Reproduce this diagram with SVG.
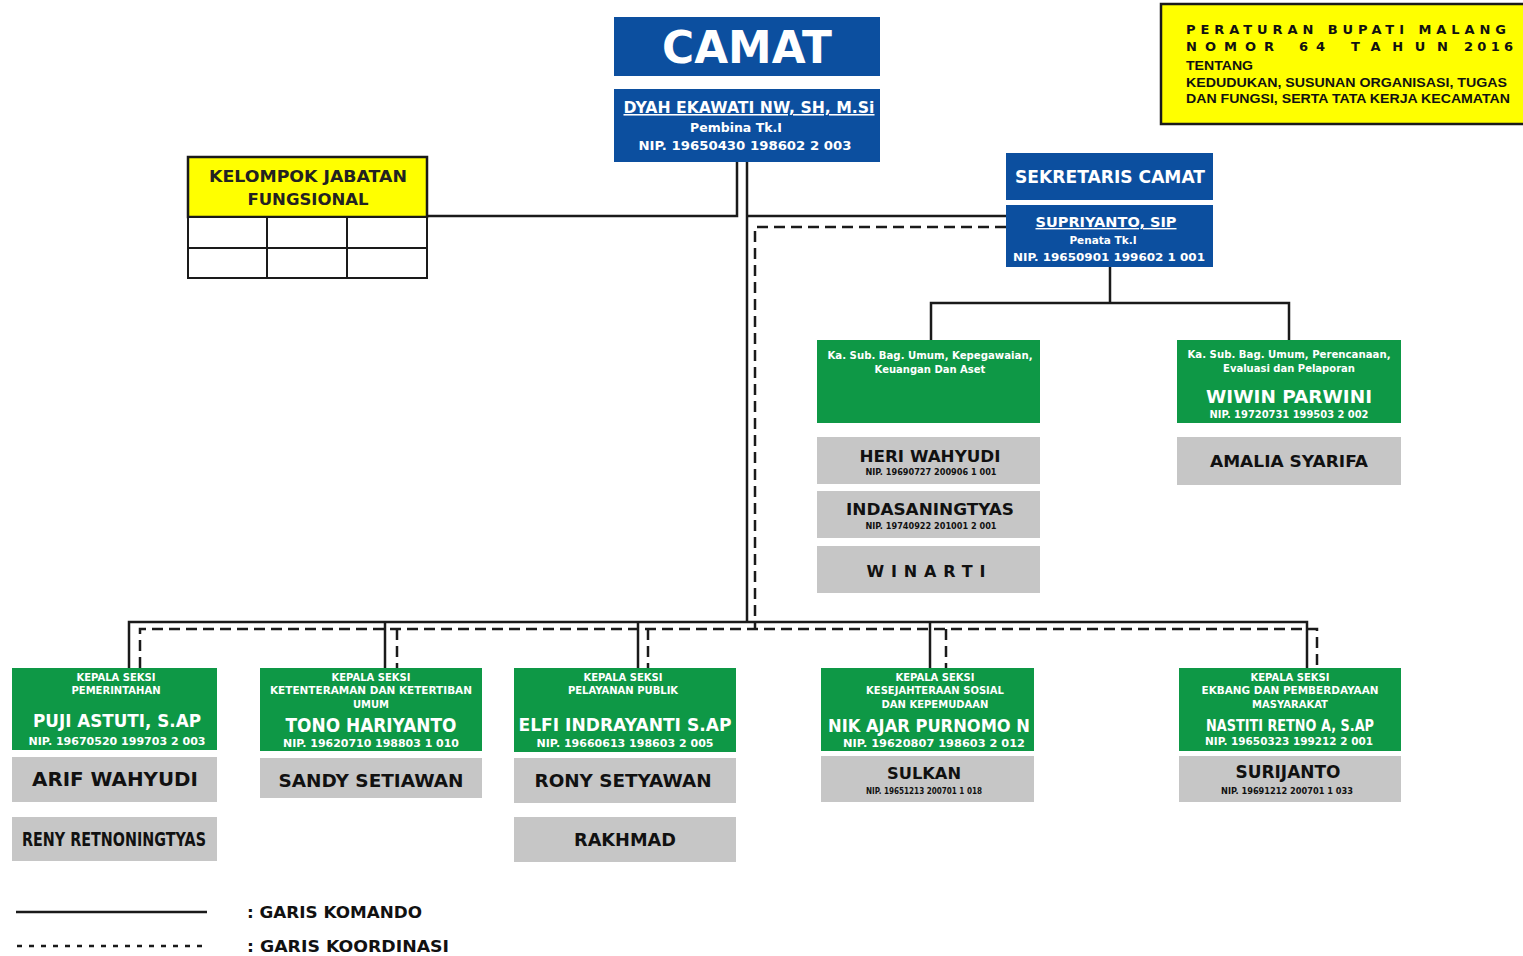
<svg xmlns="http://www.w3.org/2000/svg" width="1523" height="956" viewBox="0 0 1523 956">
<style>
.blue{fill:#0c4f9f}
.green{fill:#0e9846}
.gray{fill:#c6c6c6}
.yel{fill:#ffff00;stroke:#1a1a1a;stroke-width:2.5}
.t{font-family:"DejaVu Sans",Verdana,sans-serif;font-weight:bold;text-anchor:middle}
.w{fill:#ffffff}
.k{fill:#111111}
.cmd{fill:none;stroke:#1a1a1a;stroke-width:2.5}
.crd{fill:none;stroke:#1a1a1a;stroke-width:2.5;stroke-dasharray:11 6}
.cell{fill:#ffffff;stroke:#1a1a1a;stroke-width:2}
</style>
<rect width="1523" height="956" fill="#ffffff"/>

<g id="connectors">
  <polyline class="cmd" points="737,162 737,216 427,216"/>
  <line class="cmd" x1="747" y1="162" x2="747" y2="622"/>
  <line class="cmd" x1="747" y1="216" x2="1006" y2="216"/>
  <polyline class="crd" points="1006,227 755,227 755,629"/>
  <line class="cmd" x1="1110" y1="267" x2="1110" y2="303"/>
  <polyline class="cmd" points="931,340 931,303 1289,303 1289,340"/>
  <polyline class="cmd" points="129,668 129,622 1307,622 1307,668"/>
  <line class="cmd" x1="385" y1="622" x2="385" y2="668"/>
  <line class="cmd" x1="638" y1="622" x2="638" y2="668"/>
  <line class="cmd" x1="930" y1="622" x2="930" y2="668"/>
  <polyline class="crd" points="140,668 140,629 1317,629 1317,668"/>
  <line class="crd" x1="397" y1="629" x2="397" y2="668"/>
  <line class="crd" x1="648" y1="629" x2="648" y2="668"/>
  <line class="crd" x1="946" y1="629" x2="946" y2="668"/>
</g>

<g id="camat">
  <rect class="blue" x="614" y="17" width="266" height="59"/>
  <text class="t w" x="747" y="63" font-size="44" textLength="170" lengthAdjust="spacingAndGlyphs">CAMAT</text>
  <rect class="blue" x="614" y="89" width="266" height="73"/>
  <text class="t w" x="749" y="113" font-size="15.5" text-decoration="underline" textLength="251" lengthAdjust="spacingAndGlyphs">DYAH EKAWATI NW, SH, M.Si</text>
  <text class="t w" x="736" y="132" font-size="12.5">Pembina Tk.I</text>
  <text class="t w" x="745" y="150" font-size="12.5" textLength="213" lengthAdjust="spacingAndGlyphs">NIP. 19650430 198602 2 003</text>
</g>

<g id="peraturan">
  <rect class="yel" x="1161" y="4" width="370" height="120"/>
  <g font-family="DejaVu Sans,Verdana,sans-serif" font-weight="bold" fill="#111111">
    <text x="1186" y="34" font-size="13" textLength="326" lengthAdjust="spacing" letter-spacing="6">PERATURAN BUPATI MALANG</text>
    <text y="51" font-size="13">
      <tspan x="1186" textLength="88" lengthAdjust="spacing">NOMOR</tspan>
      <tspan x="1299" textLength="26" lengthAdjust="spacing">64</tspan>
      <tspan x="1351" textLength="97" lengthAdjust="spacing">TAHUN</tspan>
      <tspan x="1464" textLength="49" lengthAdjust="spacing">2016</tspan>
    </text>
  </g>
  <g font-family="Liberation Sans,Arial,sans-serif" font-weight="bold" fill="#111111" font-size="13.5">
    <text x="1186" y="70" textLength="67" lengthAdjust="spacingAndGlyphs">TENTANG</text>
    <text x="1186" y="87" textLength="321" lengthAdjust="spacingAndGlyphs">KEDUDUKAN, SUSUNAN ORGANISASI, TUGAS</text>
    <text x="1186" y="103" textLength="324" lengthAdjust="spacingAndGlyphs">DAN FUNGSI, SERTA TATA KERJA KECAMATAN</text>
  </g>
</g>

<g id="kelompok">
  <rect class="yel" x="188" y="157" width="239" height="60"/>
  <text class="t" fill="#222" x="308" y="182" font-size="16.5" textLength="198" lengthAdjust="spacingAndGlyphs">KELOMPOK JABATAN</text>
  <text class="t" fill="#222" x="308" y="205" font-size="16.5">FUNGSIONAL</text>
  <rect class="cell" x="188" y="217" width="239" height="61"/>
  <line stroke="#1a1a1a" stroke-width="2" x1="188" y1="248" x2="427" y2="248"/>
  <line stroke="#1a1a1a" stroke-width="2" x1="267" y1="217" x2="267" y2="278"/>
  <line stroke="#1a1a1a" stroke-width="2" x1="347" y1="217" x2="347" y2="278"/>
</g>

<g id="sekretaris">
  <rect class="blue" x="1006" y="153" width="207" height="47"/>
  <text class="t w" x="1110" y="183" font-size="17" textLength="190" lengthAdjust="spacingAndGlyphs">SEKRETARIS CAMAT</text>
  <rect class="blue" x="1006" y="205" width="207" height="62"/>
  <text class="t w" x="1106" y="227" font-size="14" text-decoration="underline" textLength="141" lengthAdjust="spacingAndGlyphs">SUPRIYANTO, SIP</text>
  <text class="t w" x="1103" y="244" font-size="10.5">Penata Tk.I</text>
  <text class="t w" x="1109" y="261" font-size="11" textLength="192" lengthAdjust="spacingAndGlyphs">NIP. 19650901 199602 1 001</text>
</g>

<g id="subbag-umum">
  <rect class="green" x="817" y="340" width="223" height="83"/>
  <text class="t w" x="930" y="359" font-size="10" textLength="205" lengthAdjust="spacingAndGlyphs">Ka. Sub. Bag. Umum, Kepegawaian,</text>
  <text class="t w" x="930" y="373" font-size="10">Keuangan Dan Aset</text>
</g>
<g id="heri">
  <rect class="gray" x="817" y="437" width="223" height="47"/>
  <text class="t k" x="930" y="462" font-size="16" textLength="141" lengthAdjust="spacingAndGlyphs">HERI WAHYUDI</text>
  <text class="t k" x="931" y="475" font-size="8" textLength="131" lengthAdjust="spacingAndGlyphs">NIP. 19690727 200906 1 001</text>
</g>
<g id="indasaningtyas">
  <rect class="gray" x="817" y="491" width="223" height="47"/>
  <text class="t k" x="930" y="515" font-size="16" textLength="168" lengthAdjust="spacingAndGlyphs">INDASANINGTYAS</text>
  <text class="t k" x="931" y="529" font-size="8" textLength="131" lengthAdjust="spacingAndGlyphs">NIP. 19740922 201001 2 001</text>
</g>
<g id="winarti">
  <rect class="gray" x="817" y="546" width="223" height="47"/>
  <text class="t k" x="926" y="577" font-size="16" textLength="119" lengthAdjust="spacing">WINARTI</text>
</g>

<g id="subbag-perencanaan">
  <rect class="green" x="1177" y="340" width="224" height="83"/>
  <text class="t w" x="1289" y="358" font-size="10" textLength="203" lengthAdjust="spacingAndGlyphs">Ka. Sub. Bag. Umum, Perencanaan,</text>
  <text class="t w" x="1289" y="372" font-size="10">Evaluasi dan Pelaporan</text>
  <text class="t w" x="1289" y="403" font-size="17" textLength="166" lengthAdjust="spacingAndGlyphs">WIWIN PARWINI</text>
  <text class="t w" x="1289" y="418" font-size="10" textLength="159" lengthAdjust="spacingAndGlyphs">NIP. 19720731 199503 2 002</text>
</g>
<g id="amalia">
  <rect class="gray" x="1177" y="437" width="224" height="48"/>
  <text class="t k" x="1289" y="467" font-size="16" textLength="158" lengthAdjust="spacingAndGlyphs">AMALIA SYARIFA</text>
</g>

<g id="seksi-pemerintahan">
  <rect class="green" x="12" y="668" width="205" height="82"/>
  <text class="t w" x="116" y="681" font-size="10">KEPALA SEKSI</text>
  <text class="t w" x="116" y="694" font-size="10">PEMERINTAHAN</text>
  <text class="t w" x="117" y="727" font-size="17" textLength="168" lengthAdjust="spacingAndGlyphs">PUJI ASTUTI, S.AP</text>
  <text class="t w" x="117" y="745" font-size="10.5" textLength="177" lengthAdjust="spacingAndGlyphs">NIP. 19670520 199703 2 003</text>
</g>
<g id="arif">
  <rect class="gray" x="12" y="757" width="205" height="45"/>
  <text class="t k" x="115" y="786" font-size="19" textLength="166" lengthAdjust="spacingAndGlyphs">ARIF WAHYUDI</text>
</g>
<g id="reny">
  <rect class="gray" x="12" y="817" width="205" height="44"/>
  <text class="t k" x="114" y="846" font-size="19" textLength="184" lengthAdjust="spacingAndGlyphs">RENY RETNONINGTYAS</text>
</g>

<g id="seksi-trantib">
  <rect class="green" x="260" y="668" width="222" height="83"/>
  <text class="t w" x="371" y="681" font-size="10">KEPALA SEKSI</text>
  <text class="t w" x="371" y="694" font-size="10" textLength="202" lengthAdjust="spacingAndGlyphs">KETENTERAMAN DAN KETERTIBAN</text>
  <text class="t w" x="371" y="708" font-size="10">UMUM</text>
  <text class="t w" x="371" y="732" font-size="19" textLength="171" lengthAdjust="spacingAndGlyphs">TONO HARIYANTO</text>
  <text class="t w" x="371" y="747" font-size="10.5" textLength="176" lengthAdjust="spacingAndGlyphs">NIP. 19620710 198803 1 010</text>
</g>
<g id="sandy">
  <rect class="gray" x="260" y="758" width="222" height="40"/>
  <text class="t k" x="371" y="787" font-size="18" textLength="185" lengthAdjust="spacingAndGlyphs">SANDY SETIAWAN</text>
</g>

<g id="seksi-pelayanan">
  <rect class="green" x="514" y="668" width="222" height="84"/>
  <text class="t w" x="623" y="681" font-size="10">KEPALA SEKSI</text>
  <text class="t w" x="623" y="694" font-size="10">PELAYANAN PUBLIK</text>
  <text class="t w" x="625" y="731" font-size="17.5" textLength="213" lengthAdjust="spacingAndGlyphs">ELFI INDRAYANTI S.AP</text>
  <text class="t w" x="625" y="747" font-size="10.5" textLength="177" lengthAdjust="spacingAndGlyphs">NIP. 19660613 198603 2 005</text>
</g>
<g id="rony">
  <rect class="gray" x="514" y="758" width="222" height="45"/>
  <text class="t k" x="623" y="787" font-size="17" textLength="177" lengthAdjust="spacingAndGlyphs">RONY SETYAWAN</text>
</g>
<g id="rakhmad">
  <rect class="gray" x="514" y="817" width="222" height="45"/>
  <text class="t k" x="625" y="846" font-size="17" textLength="102" lengthAdjust="spacingAndGlyphs">RAKHMAD</text>
</g>

<g id="seksi-kesos">
  <rect class="green" x="821" y="668" width="213" height="83"/>
  <text class="t w" x="935" y="681" font-size="10">KEPALA SEKSI</text>
  <text class="t w" x="935" y="694" font-size="10">KESEJAHTERAAN SOSIAL</text>
  <text class="t w" x="935" y="708" font-size="10">DAN KEPEMUDAAN</text>
  <text class="t w" x="929" y="732" font-size="17" textLength="202" lengthAdjust="spacingAndGlyphs">NIK AJAR PURNOMO N</text>
  <text class="t w" x="934" y="747" font-size="10.5" textLength="182" lengthAdjust="spacingAndGlyphs">NIP. 19620807 198603 2 012</text>
</g>
<g id="sulkan">
  <rect class="gray" x="821" y="756" width="213" height="46"/>
  <text class="t k" x="924" y="779" font-size="16" textLength="74" lengthAdjust="spacingAndGlyphs">SULKAN</text>
  <text class="t k" x="924" y="794" font-size="8" textLength="116" lengthAdjust="spacingAndGlyphs">NIP. 19651213 200701 1 018</text>
</g>

<g id="seksi-ekbang">
  <rect class="green" x="1179" y="668" width="222" height="83"/>
  <text class="t w" x="1290" y="681" font-size="10">KEPALA SEKSI</text>
  <text class="t w" x="1290" y="694" font-size="10" textLength="177" lengthAdjust="spacingAndGlyphs">EKBANG DAN PEMBERDAYAAN</text>
  <text class="t w" x="1290" y="708" font-size="10">MASYARAKAT</text>
  <text class="t w" x="1290" y="731" font-size="15" textLength="168" lengthAdjust="spacingAndGlyphs">NASTITI RETNO A, S.AP</text>
  <text class="t w" x="1289" y="745" font-size="10.5" textLength="168" lengthAdjust="spacingAndGlyphs">NIP. 19650323 199212 2 001</text>
</g>
<g id="surijanto">
  <rect class="gray" x="1179" y="756" width="222" height="46"/>
  <text class="t k" x="1288" y="778" font-size="17" textLength="105" lengthAdjust="spacingAndGlyphs">SURIJANTO</text>
  <text class="t k" x="1287" y="794" font-size="8" textLength="132" lengthAdjust="spacingAndGlyphs">NIP. 19691212 200701 1 033</text>
</g>

<g id="legend">
  <line stroke="#1a1a1a" stroke-width="2.5" x1="16" y1="912" x2="207" y2="912"/>
  <line stroke="#1a1a1a" stroke-width="2.5" stroke-dasharray="5 7" x1="17" y1="946" x2="207" y2="946"/>
  <text font-family="DejaVu Sans,Verdana,sans-serif" font-weight="bold" fill="#111" x="247" y="918" font-size="15" textLength="175" lengthAdjust="spacingAndGlyphs">: GARIS KOMANDO</text>
  <text font-family="DejaVu Sans,Verdana,sans-serif" font-weight="bold" fill="#111" x="247" y="952" font-size="15" textLength="202" lengthAdjust="spacingAndGlyphs">: GARIS KOORDINASI</text>
</g>
</svg>
